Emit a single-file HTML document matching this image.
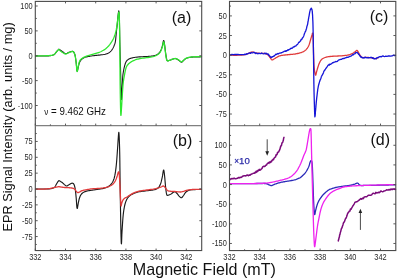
<!DOCTYPE html>
<html><head><meta charset="utf-8"><style>
html,body{margin:0;padding:0;background:#fff;width:398px;height:280px;overflow:hidden}
svg{display:block;filter:blur(0.35px)}
</style></head><body>
<svg width="398" height="280" viewBox="0 0 398 280">
<rect width="398" height="280" fill="#fff"/>
<g fill="none" stroke-linejoin="round" stroke-linecap="round" stroke-width="1.3">
<path d="M35.50,56.00 L36.59,56.00 L38.13,56.01 L39.94,56.02 L41.81,56.02 L43.57,56.02 L45.00,56.00 L46.12,55.97 L47.07,55.93 L47.91,55.89 L48.65,55.83 L49.33,55.77 L50.00,55.70 L50.63,55.62 L51.20,55.54 L51.71,55.44 L52.18,55.34 L52.60,55.23 L53.00,55.10 L53.34,54.97 L53.63,54.84 L53.87,54.71 L54.10,54.54 L54.33,54.35 L54.60,54.10 L54.90,53.79 L55.23,53.41 L55.56,53.00 L55.89,52.58 L56.20,52.17 L56.50,51.80 L56.78,51.46 L57.05,51.13 L57.31,50.81 L57.56,50.51 L57.79,50.24 L58.00,50.00 L58.18,49.79 L58.32,49.59 L58.44,49.42 L58.57,49.30 L58.72,49.22 L58.90,49.20 L59.12,49.25 L59.35,49.37 L59.60,49.54 L59.87,49.74 L60.17,49.97 L60.50,50.20 L60.86,50.46 L61.26,50.75 L61.67,51.06 L62.11,51.39 L62.56,51.70 L63.00,52.00 L63.45,52.31 L63.91,52.65 L64.39,52.98 L64.86,53.27 L65.34,53.49 L65.80,53.60 L66.26,53.57 L66.71,53.43 L67.17,53.21 L67.62,52.95 L68.06,52.70 L68.50,52.50 L68.94,52.33 L69.38,52.16 L69.81,51.99 L70.23,51.84 L70.63,51.71 L71.00,51.60 L71.33,51.51 L71.64,51.43 L71.93,51.38 L72.19,51.34 L72.45,51.35 L72.70,51.40 L72.94,51.48 L73.17,51.58 L73.38,51.72 L73.59,51.91 L73.79,52.16 L74.00,52.50 L74.21,52.90 L74.41,53.36 L74.62,53.88 L74.82,54.49 L75.01,55.19 L75.20,56.00 L75.38,56.95 L75.55,58.03 L75.72,59.21 L75.88,60.45 L76.04,61.72 L76.20,63.00 L76.35,64.44 L76.50,66.10 L76.64,67.80 L76.78,69.34 L76.93,70.54 L77.10,71.20 L77.28,71.22 L77.48,70.73 L77.68,69.89 L77.89,68.88 L78.10,67.86 L78.30,67.00 L78.49,66.25 L78.67,65.47 L78.85,64.67 L79.04,63.90 L79.25,63.17 L79.50,62.50 L79.77,61.90 L80.05,61.36 L80.36,60.86 L80.69,60.39 L81.07,59.94 L81.50,59.50 L81.98,59.07 L82.50,58.67 L83.06,58.28 L83.67,57.92 L84.31,57.59 L85.00,57.30 L85.75,57.05 L86.56,56.84 L87.41,56.66 L88.28,56.50 L89.15,56.35 L90.00,56.20 L90.83,56.06 L91.67,55.93 L92.50,55.81 L93.33,55.70 L94.17,55.60 L95.00,55.50 L95.83,55.41 L96.67,55.33 L97.50,55.25 L98.33,55.17 L99.17,55.09 L100.00,55.00 L100.86,54.90 L101.74,54.80 L102.62,54.69 L103.48,54.57 L104.28,54.44 L105.00,54.30 L105.62,54.15 L106.17,53.99 L106.66,53.81 L107.11,53.63 L107.55,53.42 L108.00,53.20 L108.45,52.96 L108.89,52.71 L109.31,52.44 L109.72,52.15 L110.12,51.84 L110.50,51.50 L110.87,51.14 L111.22,50.74 L111.56,50.33 L111.89,49.90 L112.20,49.45 L112.50,49.00 L112.78,48.54 L113.04,48.07 L113.29,47.59 L113.53,47.09 L113.77,46.56 L114.00,46.00 L114.24,45.41 L114.47,44.81 L114.70,44.19 L114.92,43.52 L115.12,42.79 L115.30,42.00 L115.45,41.12 L115.58,40.15 L115.69,39.12 L115.80,38.07 L115.90,37.02 L116.00,36.00 L116.11,34.99 L116.21,33.96 L116.31,32.94 L116.40,31.93 L116.50,30.94 L116.60,30.00 L116.70,29.13 L116.80,28.33 L116.90,27.56 L117.00,26.78 L117.10,25.94 L117.20,25.00 L117.30,23.93 L117.40,22.75 L117.50,21.51 L117.60,20.27 L117.70,19.09 L117.80,18.00 L117.90,16.99 L118.00,16.00 L118.11,15.06 L118.21,14.20 L118.31,13.44 L118.40,12.80 L118.49,12.20 L118.57,11.61 L118.66,11.13 L118.74,10.83 L118.82,10.82 L118.90,11.20 L118.98,11.94 L119.07,12.95 L119.16,14.25 L119.24,15.85 L119.32,17.76 L119.40,20.00 L119.47,22.74 L119.54,26.02 L119.61,29.61 L119.67,33.29 L119.73,36.83 L119.80,40.00 L119.87,42.73 L119.93,45.19 L119.99,47.50 L120.06,49.81 L120.13,52.27 L120.20,55.00 L120.28,58.00 L120.35,61.15 L120.43,64.44 L120.51,67.85 L120.60,71.38 L120.70,75.00 L120.81,79.13 L120.93,83.85 L121.05,88.69 L121.17,93.15 L121.29,96.75 L121.40,99.00 L121.49,99.64 L121.58,99.00 L121.66,97.50 L121.74,95.56 L121.82,93.58 L121.90,92.00 L121.98,90.72 L122.07,89.41 L122.16,88.06 L122.24,86.70 L122.32,85.34 L122.40,84.00 L122.47,82.64 L122.52,81.26 L122.58,79.88 L122.63,78.52 L122.71,77.22 L122.80,76.00 L122.92,74.86 L123.06,73.78 L123.22,72.75 L123.38,71.78 L123.54,70.86 L123.70,70.00 L123.85,69.21 L124.00,68.49 L124.14,67.83 L124.29,67.20 L124.44,66.60 L124.60,66.00 L124.76,65.41 L124.91,64.84 L125.07,64.29 L125.23,63.77 L125.41,63.27 L125.60,62.80 L125.80,62.36 L126.00,61.94 L126.21,61.56 L126.44,61.19 L126.70,60.84 L127.00,60.50 L127.34,60.17 L127.71,59.87 L128.12,59.57 L128.55,59.30 L129.01,59.04 L129.50,58.80 L130.01,58.58 L130.54,58.37 L131.09,58.19 L131.69,58.01 L132.32,57.85 L133.00,57.70 L133.72,57.56 L134.48,57.43 L135.28,57.31 L136.13,57.20 L137.03,57.09 L138.00,57.00 L139.05,56.92 L140.19,56.85 L141.38,56.79 L142.59,56.74 L143.81,56.67 L145.00,56.60 L146.20,56.52 L147.44,56.43 L148.69,56.34 L149.89,56.24 L151.01,56.13 L152.00,56.00 L152.85,55.87 L153.59,55.73 L154.25,55.59 L154.85,55.42 L155.43,55.23 L156.00,55.00 L156.57,54.74 L157.11,54.44 L157.62,54.12 L158.11,53.78 L158.57,53.40 L159.00,53.00 L159.40,52.58 L159.76,52.15 L160.09,51.69 L160.40,51.19 L160.70,50.63 L161.00,50.00 L161.30,49.28 L161.59,48.46 L161.86,47.59 L162.13,46.70 L162.37,45.83 L162.60,45.00 L162.80,44.13 L162.98,43.17 L163.14,42.22 L163.30,41.39 L163.45,40.78 L163.60,40.50 L163.75,40.57 L163.90,40.91 L164.05,41.47 L164.20,42.20 L164.35,43.06 L164.50,44.00 L164.66,45.08 L164.82,46.37 L164.99,47.78 L165.16,49.24 L165.33,50.67 L165.50,52.00 L165.68,53.28 L165.86,54.60 L166.05,55.89 L166.24,57.09 L166.42,58.15 L166.60,59.00 L166.76,59.63 L166.89,60.07 L167.02,60.38 L167.17,60.57 L167.35,60.70 L167.60,60.80 L167.91,60.85 L168.27,60.80 L168.67,60.69 L169.10,60.53 L169.55,60.36 L170.00,60.20 L170.47,60.03 L170.98,59.82 L171.50,59.59 L172.02,59.37 L172.53,59.17 L173.00,59.00 L173.43,58.86 L173.84,58.71 L174.23,58.59 L174.61,58.51 L175.00,58.47 L175.40,58.50 L175.83,58.61 L176.27,58.80 L176.73,59.03 L177.17,59.29 L177.60,59.56 L178.00,59.80 L178.37,60.03 L178.73,60.27 L179.06,60.51 L179.39,60.75 L179.70,60.98 L180.00,61.20 L180.29,61.43 L180.55,61.70 L180.81,61.95 L181.06,62.16 L181.32,62.29 L181.60,62.30 L181.89,62.17 L182.19,61.92 L182.49,61.59 L182.81,61.22 L183.15,60.85 L183.50,60.50 L183.86,60.17 L184.23,59.82 L184.62,59.46 L185.03,59.11 L185.49,58.79 L186.00,58.50 L186.57,58.24 L187.19,58.01 L187.84,57.79 L188.54,57.60 L189.26,57.44 L190.00,57.30 L190.76,57.20 L191.54,57.13 L192.34,57.09 L193.19,57.06 L194.07,57.03 L195.00,57.00 L196.07,56.96 L197.30,56.92 L198.56,56.88 L199.76,56.85 L200.78,56.82 L201.50,56.80" stroke="#1a1a1a" stroke-width="1.1"/>
<path d="M35.50,56.00 L36.59,55.98 L38.13,55.95 L39.94,55.92 L41.81,55.88 L43.57,55.84 L45.00,55.80 L46.12,55.76 L47.07,55.71 L47.91,55.67 L48.65,55.62 L49.33,55.56 L50.00,55.50 L50.63,55.43 L51.20,55.37 L51.71,55.29 L52.18,55.21 L52.60,55.11 L53.00,55.00 L53.34,54.88 L53.63,54.75 L53.87,54.61 L54.10,54.44 L54.33,54.24 L54.60,54.00 L54.90,53.70 L55.23,53.33 L55.56,52.94 L55.89,52.53 L56.20,52.15 L56.50,51.80 L56.78,51.49 L57.05,51.19 L57.31,50.91 L57.56,50.64 L57.79,50.41 L58.00,50.20 L58.18,50.01 L58.32,49.82 L58.44,49.66 L58.57,49.54 L58.72,49.48 L58.90,49.50 L59.12,49.62 L59.35,49.83 L59.60,50.09 L59.87,50.40 L60.17,50.71 L60.50,51.00 L60.86,51.29 L61.26,51.60 L61.67,51.92 L62.11,52.23 L62.56,52.53 L63.00,52.80 L63.45,53.06 L63.91,53.33 L64.39,53.59 L64.86,53.80 L65.34,53.95 L65.80,54.00 L66.26,53.94 L66.71,53.77 L67.17,53.54 L67.62,53.27 L68.06,53.02 L68.50,52.80 L68.94,52.61 L69.38,52.43 L69.81,52.24 L70.23,52.07 L70.63,51.92 L71.00,51.80 L71.33,51.69 L71.64,51.59 L71.93,51.51 L72.19,51.46 L72.45,51.46 L72.70,51.50 L72.94,51.59 L73.17,51.71 L73.38,51.88 L73.59,52.09 L73.79,52.36 L74.00,52.70 L74.21,53.09 L74.41,53.51 L74.62,53.99 L74.82,54.55 L75.01,55.21 L75.20,56.00 L75.38,56.94 L75.55,58.00 L75.72,59.17 L75.88,60.42 L76.04,61.70 L76.20,63.00 L76.35,64.49 L76.50,66.24 L76.64,68.03 L76.78,69.65 L76.93,70.88 L77.10,71.50 L77.28,71.38 L77.48,70.67 L77.68,69.56 L77.89,68.28 L78.10,67.02 L78.30,66.00 L78.49,65.17 L78.67,64.36 L78.85,63.57 L79.04,62.83 L79.25,62.13 L79.50,61.50 L79.77,60.94 L80.05,60.44 L80.36,59.99 L80.69,59.58 L81.07,59.19 L81.50,58.80 L81.98,58.42 L82.50,58.07 L83.06,57.74 L83.67,57.43 L84.31,57.11 L85.00,56.80 L85.75,56.48 L86.56,56.17 L87.41,55.86 L88.28,55.56 L89.15,55.27 L90.00,55.00 L90.83,54.75 L91.67,54.51 L92.50,54.29 L93.33,54.07 L94.17,53.84 L95.00,53.60 L95.86,53.34 L96.74,53.08 L97.62,52.81 L98.48,52.53 L99.28,52.26 L100.00,52.00 L100.62,51.75 L101.15,51.51 L101.62,51.27 L102.07,51.03 L102.52,50.78 L103.00,50.50 L103.50,50.21 L104.00,49.91 L104.50,49.59 L105.00,49.26 L105.50,48.90 L106.00,48.50 L106.51,48.06 L107.02,47.59 L107.53,47.09 L108.04,46.57 L108.53,46.04 L109.00,45.50 L109.45,44.95 L109.89,44.37 L110.31,43.78 L110.72,43.19 L111.12,42.59 L111.50,42.00 L111.87,41.43 L112.21,40.87 L112.55,40.31 L112.87,39.74 L113.19,39.14 L113.50,38.50 L113.81,37.81 L114.11,37.09 L114.40,36.34 L114.68,35.57 L114.95,34.79 L115.20,34.00 L115.43,33.22 L115.64,32.44 L115.84,31.66 L116.03,30.83 L116.22,29.95 L116.40,29.00 L116.58,27.95 L116.75,26.81 L116.92,25.62 L117.08,24.41 L117.24,23.19 L117.40,22.00 L117.56,20.78 L117.72,19.51 L117.88,18.23 L118.03,17.01 L118.17,15.92 L118.30,15.00 L118.42,14.18 L118.53,13.40 L118.62,12.73 L118.72,12.27 L118.81,12.10 L118.90,12.30 L118.99,12.78 L119.08,13.46 L119.16,14.42 L119.24,15.77 L119.32,17.60 L119.40,20.00 L119.47,23.05 L119.54,26.68 L119.61,30.79 L119.68,35.29 L119.74,40.05 L119.80,45.00 L119.85,50.37 L119.90,56.30 L119.95,62.50 L120.00,68.70 L120.05,74.63 L120.10,80.00 L120.16,84.92 L120.23,89.62 L120.29,94.04 L120.36,98.13 L120.43,101.80 L120.50,105.00 L120.56,107.77 L120.63,110.17 L120.69,112.17 L120.75,113.71 L120.82,114.77 L120.90,115.30 L120.99,115.17 L121.08,114.38 L121.18,113.11 L121.28,111.51 L121.39,109.75 L121.50,108.00 L121.62,106.15 L121.75,104.05 L121.88,101.79 L122.02,99.47 L122.16,97.17 L122.30,95.00 L122.44,92.90 L122.58,90.78 L122.72,88.69 L122.87,86.67 L123.03,84.76 L123.20,83.00 L123.39,81.42 L123.60,80.00 L123.81,78.69 L124.04,77.44 L124.27,76.23 L124.50,75.00 L124.73,73.73 L124.97,72.46 L125.21,71.22 L125.46,70.04 L125.72,68.95 L126.00,68.00 L126.29,67.20 L126.59,66.54 L126.91,65.97 L127.24,65.46 L127.60,64.98 L128.00,64.50 L128.43,64.02 L128.89,63.57 L129.38,63.16 L129.89,62.76 L130.43,62.38 L131.00,62.00 L131.60,61.63 L132.22,61.27 L132.88,60.93 L133.56,60.60 L134.26,60.29 L135.00,60.00 L135.74,59.73 L136.48,59.48 L137.25,59.24 L138.07,59.02 L138.98,58.81 L140.00,58.60 L141.17,58.40 L142.48,58.23 L143.88,58.06 L145.30,57.89 L146.69,57.70 L148.00,57.50 L149.26,57.28 L150.52,57.07 L151.75,56.84 L152.93,56.59 L154.02,56.31 L155.00,56.00 L155.86,55.65 L156.63,55.26 L157.31,54.84 L157.93,54.41 L158.48,53.96 L159.00,53.50 L159.45,53.05 L159.83,52.59 L160.15,52.12 L160.44,51.63 L160.71,51.09 L161.00,50.50 L161.30,49.83 L161.59,49.10 L161.86,48.32 L162.13,47.53 L162.37,46.75 L162.60,46.00 L162.80,45.20 L162.98,44.30 L163.14,43.42 L163.30,42.64 L163.45,42.07 L163.60,41.80 L163.75,41.85 L163.90,42.14 L164.05,42.64 L164.20,43.30 L164.35,44.10 L164.50,45.00 L164.66,46.07 L164.82,47.37 L164.99,48.79 L165.16,50.27 L165.33,51.70 L165.50,53.00 L165.68,54.23 L165.86,55.47 L166.05,56.67 L166.24,57.77 L166.42,58.73 L166.60,59.50 L166.76,60.04 L166.89,60.39 L167.02,60.59 L167.17,60.70 L167.35,60.75 L167.60,60.80 L167.91,60.82 L168.27,60.76 L168.67,60.66 L169.10,60.51 L169.55,60.36 L170.00,60.20 L170.47,60.03 L170.98,59.82 L171.50,59.59 L172.02,59.37 L172.53,59.17 L173.00,59.00 L173.43,58.86 L173.84,58.73 L174.23,58.61 L174.61,58.53 L175.00,58.49 L175.40,58.50 L175.83,58.57 L176.27,58.70 L176.73,58.88 L177.17,59.07 L177.60,59.29 L178.00,59.50 L178.37,59.73 L178.73,59.99 L179.06,60.26 L179.39,60.53 L179.70,60.78 L180.00,61.00 L180.29,61.20 L180.55,61.40 L180.81,61.59 L181.06,61.73 L181.32,61.81 L181.60,61.80 L181.89,61.69 L182.19,61.49 L182.49,61.22 L182.81,60.92 L183.15,60.61 L183.50,60.30 L183.86,59.99 L184.23,59.64 L184.62,59.27 L185.03,58.92 L185.49,58.59 L186.00,58.30 L186.57,58.06 L187.19,57.84 L187.84,57.65 L188.54,57.48 L189.26,57.33 L190.00,57.20 L190.76,57.09 L191.54,57.01 L192.34,56.94 L193.19,56.89 L194.07,56.85 L195.00,56.80 L196.07,56.75 L197.30,56.71 L198.56,56.67 L199.76,56.64 L200.78,56.62 L201.50,56.60" stroke="#2ee82e"/>
<path d="M35.50,189.00 L36.59,189.00 L38.13,189.01 L39.94,189.01 L41.81,189.01 L43.57,189.01 L45.00,189.00 L46.12,188.98 L47.07,188.97 L47.91,188.94 L48.65,188.91 L49.33,188.86 L50.00,188.80 L50.63,188.72 L51.19,188.62 L51.70,188.51 L52.16,188.39 L52.59,188.25 L53.00,188.10 L53.37,187.95 L53.69,187.80 L53.98,187.64 L54.25,187.44 L54.52,187.20 L54.80,186.90 L55.09,186.51 L55.37,186.05 L55.66,185.54 L55.94,185.01 L56.22,184.49 L56.50,184.00 L56.79,183.51 L57.10,183.01 L57.40,182.51 L57.69,182.04 L57.96,181.63 L58.20,181.30 L58.39,181.06 L58.54,180.89 L58.67,180.78 L58.79,180.72 L58.93,180.69 L59.10,180.70 L59.30,180.75 L59.51,180.84 L59.73,180.98 L59.97,181.14 L60.23,181.32 L60.50,181.50 L60.80,181.68 L61.12,181.88 L61.46,182.09 L61.81,182.31 L62.16,182.55 L62.50,182.80 L62.83,183.08 L63.17,183.38 L63.50,183.69 L63.83,184.01 L64.17,184.32 L64.50,184.60 L64.83,184.88 L65.17,185.19 L65.50,185.47 L65.83,185.73 L66.17,185.91 L66.50,186.00 L66.83,185.98 L67.15,185.86 L67.47,185.68 L67.80,185.45 L68.14,185.22 L68.50,185.00 L68.90,184.78 L69.33,184.53 L69.78,184.26 L70.22,184.01 L70.64,183.78 L71.00,183.60 L71.31,183.46 L71.57,183.33 L71.81,183.23 L72.04,183.17 L72.26,183.16 L72.50,183.20 L72.75,183.28 L73.01,183.39 L73.27,183.54 L73.52,183.77 L73.77,184.08 L74.00,184.50 L74.22,185.01 L74.43,185.60 L74.63,186.27 L74.83,187.05 L75.02,187.95 L75.20,189.00 L75.38,190.22 L75.55,191.61 L75.72,193.12 L75.88,194.72 L76.04,196.36 L76.20,198.00 L76.35,199.85 L76.50,201.98 L76.64,204.16 L76.78,206.13 L76.93,207.66 L77.10,208.50 L77.28,208.50 L77.48,207.83 L77.68,206.72 L77.89,205.39 L78.10,204.07 L78.30,203.00 L78.49,202.13 L78.67,201.26 L78.85,200.41 L79.04,199.57 L79.25,198.77 L79.50,198.00 L79.77,197.26 L80.05,196.53 L80.36,195.84 L80.69,195.18 L81.07,194.56 L81.50,194.00 L81.98,193.49 L82.50,193.03 L83.06,192.62 L83.67,192.24 L84.31,191.91 L85.00,191.60 L85.75,191.34 L86.56,191.12 L87.41,190.94 L88.28,190.79 L89.15,190.65 L90.00,190.50 L90.83,190.36 L91.67,190.24 L92.50,190.13 L93.33,190.03 L94.17,189.92 L95.00,189.80 L95.83,189.67 L96.67,189.55 L97.50,189.42 L98.33,189.29 L99.17,189.15 L100.00,189.00 L100.84,188.86 L101.70,188.72 L102.56,188.57 L103.41,188.41 L104.22,188.23 L105.00,188.00 L105.74,187.74 L106.44,187.44 L107.12,187.12 L107.78,186.78 L108.40,186.40 L109.00,186.00 L109.56,185.59 L110.09,185.19 L110.59,184.75 L111.07,184.26 L111.54,183.69 L112.00,183.00 L112.45,182.24 L112.90,181.44 L113.33,180.56 L113.74,179.56 L114.13,178.38 L114.50,177.00 L114.85,175.41 L115.17,173.63 L115.48,171.69 L115.76,169.59 L116.04,167.36 L116.30,165.00 L116.55,162.40 L116.79,159.52 L117.01,156.50 L117.22,153.48 L117.42,150.60 L117.60,148.00 L117.77,145.61 L117.91,143.31 L118.05,141.15 L118.17,139.18 L118.29,137.44 L118.40,136.00 L118.50,134.79 L118.59,133.76 L118.67,132.96 L118.74,132.47 L118.82,132.33 L118.90,132.60 L118.98,133.35 L119.07,134.54 L119.16,136.09 L119.24,137.90 L119.32,139.90 L119.40,142.00 L119.47,144.10 L119.54,146.25 L119.61,148.59 L119.67,151.24 L119.73,154.33 L119.80,158.00 L119.86,162.31 L119.92,167.19 L119.98,172.50 L120.04,178.15 L120.12,184.02 L120.20,190.00 L120.30,196.50 L120.42,203.70 L120.54,211.12 L120.67,218.30 L120.79,224.75 L120.90,230.00 L120.99,234.14 L121.08,237.56 L121.16,240.25 L121.23,242.22 L121.31,243.47 L121.40,244.00 L121.49,243.56 L121.57,242.11 L121.66,239.94 L121.75,237.33 L121.86,234.59 L122.00,232.00 L122.16,229.38 L122.34,226.44 L122.54,223.38 L122.75,220.33 L122.97,217.49 L123.20,215.00 L123.44,212.88 L123.68,211.00 L123.94,209.31 L124.21,207.78 L124.49,206.35 L124.80,205.00 L125.12,203.74 L125.46,202.61 L125.81,201.59 L126.19,200.67 L126.58,199.81 L127.00,199.00 L127.43,198.26 L127.87,197.61 L128.32,197.03 L128.82,196.50 L129.38,196.00 L130.00,195.50 L130.72,195.01 L131.52,194.55 L132.38,194.12 L133.26,193.71 L134.14,193.34 L135.00,193.00 L135.80,192.70 L136.56,192.44 L137.31,192.21 L138.11,192.00 L138.99,191.80 L140.00,191.60 L141.18,191.41 L142.52,191.23 L143.94,191.06 L145.37,190.90 L146.75,190.75 L148.00,190.60 L149.14,190.47 L150.22,190.36 L151.25,190.25 L152.22,190.13 L153.14,189.99 L154.00,189.80 L154.80,189.58 L155.54,189.36 L156.22,189.10 L156.85,188.80 L157.44,188.44 L158.00,188.00 L158.51,187.50 L158.97,186.94 L159.39,186.32 L159.77,185.64 L160.14,184.87 L160.50,184.00 L160.85,183.01 L161.17,181.89 L161.47,180.69 L161.76,179.44 L162.04,178.20 L162.30,177.00 L162.55,175.68 L162.78,174.19 L163.00,172.69 L163.21,171.37 L163.41,170.41 L163.60,170.00 L163.78,170.19 L163.96,170.85 L164.12,171.88 L164.28,173.15 L164.44,174.56 L164.60,176.00 L164.77,177.58 L164.93,179.43 L165.09,181.41 L165.26,183.41 L165.43,185.31 L165.60,187.00 L165.78,188.53 L165.95,190.01 L166.13,191.39 L166.31,192.63 L166.50,193.68 L166.70,194.50 L166.89,195.03 L167.06,195.31 L167.23,195.39 L167.43,195.36 L167.68,195.27 L168.00,195.20 L168.41,195.11 L168.91,194.95 L169.46,194.74 L170.01,194.49 L170.54,194.24 L171.00,194.00 L171.39,193.76 L171.74,193.49 L172.06,193.22 L172.37,192.95 L172.68,192.71 L173.00,192.50 L173.33,192.31 L173.67,192.12 L174.00,191.95 L174.33,191.83 L174.67,191.77 L175.00,191.80 L175.33,191.93 L175.65,192.14 L175.97,192.42 L176.30,192.75 L176.64,193.11 L177.00,193.50 L177.39,193.95 L177.81,194.47 L178.25,195.03 L178.69,195.59 L179.11,196.09 L179.50,196.50 L179.86,196.84 L180.20,197.16 L180.53,197.43 L180.85,197.62 L181.17,197.72 L181.50,197.70 L181.83,197.55 L182.15,197.27 L182.47,196.89 L182.80,196.46 L183.14,195.98 L183.50,195.50 L183.87,194.97 L184.24,194.37 L184.62,193.74 L185.04,193.10 L185.49,192.51 L186.00,192.00 L186.57,191.56 L187.19,191.16 L187.84,190.81 L188.54,190.49 L189.26,190.22 L190.00,190.00 L190.76,189.84 L191.54,189.74 L192.34,189.69 L193.19,189.66 L194.07,189.64 L195.00,189.60 L196.07,189.55 L197.30,189.51 L198.56,189.47 L199.76,189.44 L200.78,189.42 L201.50,189.40" stroke="#1a1a1a" stroke-width="1.15"/>
<path d="M35.50,189.20 L36.59,189.18 L38.13,189.16 L39.94,189.13 L41.81,189.10 L43.57,189.05 L45.00,189.00 L46.11,188.94 L47.04,188.87 L47.84,188.79 L48.57,188.71 L49.28,188.61 L50.00,188.50 L50.74,188.37 L51.44,188.22 L52.12,188.06 L52.78,187.89 L53.40,187.74 L54.00,187.60 L54.57,187.48 L55.11,187.37 L55.62,187.26 L56.11,187.17 L56.57,187.08 L57.00,187.00 L57.38,186.92 L57.70,186.85 L58.00,186.78 L58.30,186.73 L58.62,186.70 L59.00,186.70 L59.43,186.74 L59.89,186.81 L60.38,186.91 L60.89,187.01 L61.43,187.11 L62.00,187.20 L62.61,187.27 L63.26,187.35 L63.94,187.42 L64.63,187.49 L65.32,187.55 L66.00,187.60 L66.68,187.64 L67.37,187.67 L68.06,187.69 L68.74,187.72 L69.39,187.75 L70.00,187.80 L70.57,187.86 L71.11,187.92 L71.62,187.99 L72.11,188.07 L72.57,188.17 L73.00,188.30 L73.40,188.45 L73.76,188.62 L74.09,188.81 L74.41,189.01 L74.71,189.25 L75.00,189.50 L75.28,189.80 L75.54,190.14 L75.79,190.51 L76.03,190.87 L76.27,191.21 L76.50,191.50 L76.72,191.76 L76.93,192.00 L77.14,192.21 L77.34,192.39 L77.56,192.53 L77.80,192.60 L78.05,192.61 L78.31,192.55 L78.57,192.45 L78.86,192.31 L79.17,192.16 L79.50,192.00 L79.85,191.82 L80.22,191.60 L80.61,191.37 L81.03,191.13 L81.49,190.90 L82.00,190.70 L82.56,190.53 L83.15,190.37 L83.78,190.23 L84.46,190.09 L85.20,189.95 L86.00,189.80 L86.86,189.63 L87.78,189.46 L88.75,189.28 L89.78,189.10 L90.86,188.94 L92.00,188.80 L93.24,188.69 L94.59,188.61 L96.00,188.54 L97.41,188.48 L98.76,188.40 L100.00,188.30 L101.14,188.18 L102.22,188.05 L103.25,187.91 L104.22,187.75 L105.14,187.58 L106.00,187.40 L106.79,187.20 L107.52,186.99 L108.19,186.77 L108.81,186.53 L109.41,186.27 L110.00,186.00 L110.56,185.72 L111.09,185.43 L111.59,185.13 L112.07,184.80 L112.54,184.43 L113.00,184.00 L113.45,183.52 L113.90,182.98 L114.33,182.41 L114.74,181.80 L115.14,181.16 L115.50,180.50 L115.84,179.80 L116.14,179.06 L116.43,178.28 L116.70,177.50 L116.95,176.73 L117.20,176.00 L117.43,175.23 L117.65,174.41 L117.86,173.59 L118.05,172.87 L118.23,172.31 L118.40,172.00 L118.56,171.88 L118.70,171.89 L118.83,172.06 L118.96,172.44 L119.08,173.08 L119.20,174.00 L119.32,175.29 L119.44,176.93 L119.56,178.81 L119.68,180.85 L119.79,182.95 L119.90,185.00 L120.01,187.11 L120.11,189.38 L120.21,191.70 L120.31,193.98 L120.41,196.11 L120.50,198.00 L120.59,199.72 L120.66,201.38 L120.74,202.89 L120.81,204.18 L120.90,205.17 L121.00,205.80 L121.11,205.95 L121.23,205.66 L121.36,205.08 L121.49,204.34 L121.64,203.60 L121.80,203.00 L121.97,202.50 L122.14,201.98 L122.32,201.45 L122.53,200.93 L122.75,200.44 L123.00,200.00 L123.29,199.60 L123.61,199.22 L123.95,198.88 L124.30,198.56 L124.66,198.26 L125.00,198.00 L125.32,197.79 L125.63,197.63 L125.94,197.50 L126.26,197.37 L126.61,197.21 L127.00,197.00 L127.42,196.73 L127.85,196.43 L128.31,196.10 L128.81,195.75 L129.37,195.38 L130.00,195.00 L130.72,194.59 L131.52,194.13 L132.38,193.66 L133.26,193.20 L134.14,192.77 L135.00,192.40 L135.81,192.09 L136.59,191.83 L137.38,191.60 L138.19,191.39 L139.05,191.20 L140.00,191.00 L141.05,190.81 L142.19,190.64 L143.38,190.47 L144.59,190.32 L145.81,190.16 L147.00,190.00 L148.20,189.83 L149.44,189.67 L150.69,189.50 L151.89,189.33 L153.01,189.17 L154.00,189.00 L154.85,188.83 L155.59,188.67 L156.25,188.50 L156.85,188.33 L157.43,188.17 L158.00,188.00 L158.56,187.83 L159.09,187.67 L159.59,187.50 L160.07,187.33 L160.54,187.17 L161.00,187.00 L161.45,186.80 L161.89,186.56 L162.31,186.31 L162.72,186.11 L163.12,185.99 L163.50,186.00 L163.86,186.15 L164.20,186.43 L164.53,186.78 L164.85,187.19 L165.17,187.60 L165.50,188.00 L165.83,188.41 L166.15,188.86 L166.47,189.33 L166.80,189.78 L167.14,190.18 L167.50,190.50 L167.86,190.73 L168.20,190.88 L168.56,190.99 L168.96,191.06 L169.43,191.13 L170.00,191.20 L170.69,191.27 L171.48,191.32 L172.34,191.36 L173.24,191.40 L174.14,191.44 L175.00,191.50 L175.86,191.58 L176.74,191.69 L177.62,191.80 L178.48,191.90 L179.28,191.97 L180.00,192.00 L180.62,191.98 L181.15,191.93 L181.62,191.84 L182.07,191.74 L182.52,191.62 L183.00,191.50 L183.49,191.36 L183.96,191.20 L184.44,191.02 L184.93,190.84 L185.44,190.66 L186.00,190.50 L186.60,190.35 L187.22,190.20 L187.88,190.06 L188.56,189.92 L189.26,189.80 L190.00,189.70 L190.76,189.62 L191.54,189.56 L192.34,189.51 L193.19,189.47 L194.07,189.43 L195.00,189.40 L196.07,189.37 L197.30,189.35 L198.56,189.33 L199.76,189.32 L200.78,189.31 L201.50,189.30" stroke="#e03a3a"/>
<path d="M229.60,55.20 L230.53,55.21 L231.83,55.22 L233.36,55.24 L234.99,55.24 L236.58,55.23 L238.00,55.20 L239.28,55.14 L240.55,55.07 L241.78,54.99 L242.94,54.88 L244.02,54.75 L245.00,54.60 L245.85,54.41 L246.58,54.19 L247.22,53.94 L247.82,53.68 L248.40,53.43 L249.00,53.20 L249.60,52.96 L250.17,52.70 L250.73,52.44 L251.27,52.22 L251.83,52.06 L252.40,52.00 L252.98,52.06 L253.57,52.23 L254.16,52.46 L254.76,52.71 L255.37,52.94 L256.00,53.10 L256.63,53.19 L257.27,53.23 L257.91,53.26 L258.58,53.27 L259.27,53.28 L260.00,53.30 L260.80,53.32 L261.67,53.32 L262.56,53.32 L263.44,53.34 L264.27,53.39 L265.00,53.50 L265.63,53.66 L266.19,53.87 L266.69,54.11 L267.15,54.38 L267.58,54.68 L268.00,55.00 L268.39,55.36 L268.74,55.76 L269.06,56.19 L269.37,56.64 L269.68,57.08 L270.00,57.50 L270.33,57.94 L270.67,58.43 L271.00,58.91 L271.33,59.35 L271.67,59.69 L272.00,59.90 L272.32,59.95 L272.63,59.88 L272.94,59.71 L273.26,59.49 L273.61,59.24 L274.00,59.00 L274.44,58.75 L274.93,58.45 L275.44,58.13 L275.96,57.80 L276.49,57.49 L277.00,57.20 L277.48,56.94 L277.93,56.68 L278.38,56.44 L278.85,56.21 L279.38,55.99 L280.00,55.80 L280.72,55.63 L281.52,55.48 L282.38,55.34 L283.26,55.22 L284.14,55.11 L285.00,55.00 L285.83,54.90 L286.67,54.81 L287.50,54.73 L288.33,54.66 L289.17,54.58 L290.00,54.50 L290.83,54.42 L291.67,54.36 L292.50,54.29 L293.33,54.21 L294.17,54.12 L295.00,54.00 L295.86,53.85 L296.74,53.68 L297.62,53.49 L298.48,53.29 L299.28,53.09 L300.00,52.90 L300.63,52.72 L301.19,52.54 L301.69,52.36 L302.15,52.17 L302.58,51.99 L303.00,51.80 L303.39,51.62 L303.74,51.44 L304.06,51.26 L304.37,51.07 L304.68,50.85 L305.00,50.60 L305.33,50.32 L305.67,50.02 L306.00,49.69 L306.33,49.34 L306.67,48.94 L307.00,48.50 L307.34,48.03 L307.67,47.53 L308.01,46.99 L308.35,46.40 L308.68,45.74 L309.00,45.00 L309.32,44.12 L309.64,43.11 L309.95,42.03 L310.25,40.94 L310.54,39.91 L310.80,39.00 L311.04,38.19 L311.26,37.43 L311.47,36.73 L311.66,36.09 L311.84,35.51 L312.00,35.00 L312.15,34.49 L312.28,33.95 L312.39,33.48 L312.50,33.16 L312.60,33.07 L312.70,33.30 L312.80,33.83 L312.89,34.60 L312.97,35.61 L313.05,36.84 L313.12,38.31 L313.20,40.00 L313.27,42.04 L313.33,44.46 L313.39,47.11 L313.46,49.84 L313.52,52.52 L313.60,55.00 L313.68,57.35 L313.76,59.70 L313.84,61.99 L313.94,64.18 L314.06,66.20 L314.20,68.00 L314.38,69.64 L314.59,71.18 L314.82,72.56 L315.06,73.71 L315.29,74.58 L315.50,75.10 L315.68,75.19 L315.84,74.87 L316.00,74.27 L316.16,73.51 L316.32,72.72 L316.50,72.00 L316.70,71.33 L316.91,70.59 L317.12,69.81 L317.35,69.01 L317.57,68.24 L317.80,67.50 L318.03,66.79 L318.26,66.09 L318.49,65.40 L318.72,64.73 L318.96,64.10 L319.20,63.50 L319.44,62.94 L319.68,62.41 L319.92,61.91 L320.17,61.44 L320.43,61.01 L320.70,60.60 L320.97,60.23 L321.23,59.91 L321.49,59.61 L321.79,59.34 L322.12,59.07 L322.50,58.80 L322.94,58.52 L323.42,58.25 L323.94,57.99 L324.50,57.74 L325.09,57.51 L325.70,57.30 L326.33,57.12 L326.99,56.97 L327.67,56.83 L328.40,56.71 L329.17,56.60 L330.00,56.50 L330.90,56.41 L331.87,56.33 L332.89,56.27 L333.94,56.21 L334.98,56.16 L336.00,56.10 L337.00,56.05 L338.00,56.01 L339.00,55.97 L340.00,55.93 L341.00,55.88 L342.00,55.80 L343.02,55.70 L344.07,55.59 L345.12,55.47 L346.15,55.33 L347.12,55.17 L348.00,55.00 L348.79,54.81 L349.52,54.59 L350.19,54.36 L350.81,54.12 L351.41,53.86 L352.00,53.60 L352.57,53.32 L353.11,53.01 L353.62,52.70 L354.10,52.39 L354.56,52.08 L355.00,51.80 L355.40,51.49 L355.77,51.14 L356.12,50.79 L356.45,50.52 L356.77,50.37 L357.10,50.40 L357.43,50.66 L357.74,51.10 L358.06,51.68 L358.37,52.31 L358.68,52.94 L359.00,53.50 L359.33,54.03 L359.68,54.58 L360.02,55.13 L360.37,55.65 L360.69,56.12 L361.00,56.50 L361.26,56.80 L361.46,57.02 L361.66,57.19 L361.87,57.32 L362.14,57.42 L362.50,57.50 L362.96,57.54 L363.50,57.54 L364.09,57.50 L364.72,57.45 L365.36,57.41 L366.00,57.40 L366.65,57.41 L367.33,57.43 L368.03,57.46 L368.72,57.50 L369.39,57.55 L370.00,57.60 L370.56,57.67 L371.09,57.74 L371.59,57.83 L372.07,57.92 L372.54,58.01 L373.00,58.10 L373.45,58.20 L373.87,58.31 L374.28,58.43 L374.69,58.53 L375.09,58.59 L375.50,58.60 L375.95,58.53 L376.43,58.40 L376.91,58.23 L377.35,58.06 L377.73,57.90 L378.00,57.80" stroke="#e03a3a"/>
<path d="M229.60,54.73 L230.53,55.00 L231.83,54.36 L233.36,54.65 L234.99,54.51 L236.58,54.46 L238.00,54.52 L239.28,54.62 L240.55,54.63 L241.78,54.70 L242.94,54.52 L244.02,54.67 L245.00,54.13 L245.85,54.61 L246.58,53.68 L247.22,54.08 L247.82,53.67 L248.40,53.62 L249.00,53.08 L249.60,52.95 L250.17,53.30 L250.73,53.26 L251.27,52.50 L251.83,52.72 L252.40,52.84 L252.98,52.90 L253.57,52.29 L254.16,52.42 L254.76,52.73 L255.37,53.53 L256.00,52.94 L256.63,53.29 L257.27,53.80 L257.91,53.43 L258.58,53.57 L259.27,53.23 L260.00,53.57 L260.80,53.70 L261.67,52.94 L262.56,53.58 L263.44,53.78 L264.27,53.58 L265.00,53.20 L265.63,53.74 L266.20,53.21 L266.72,53.64 L267.19,54.20 L267.61,53.81 L268.00,54.01 L268.33,54.11 L268.60,54.31 L268.83,55.22 L269.04,55.13 L269.26,55.50 L269.50,55.99 L269.77,55.88 L270.05,56.65 L270.33,56.55 L270.62,57.20 L270.91,57.48 L271.20,57.04 L271.48,57.32 L271.75,57.49 L272.02,57.09 L272.31,56.56 L272.63,56.77 L273.00,56.65 L273.42,56.24 L273.87,56.30 L274.36,55.62 L274.88,55.53 L275.43,54.49 L276.00,54.18 L276.60,54.50 L277.22,53.88 L277.88,53.44 L278.56,53.89 L279.26,53.12 L280.00,53.23 L280.80,52.91 L281.67,52.74 L282.56,52.19 L283.44,51.99 L284.27,51.33 L285.00,50.99 L285.60,51.33 L286.11,50.72 L286.56,51.03 L287.00,50.58 L287.47,50.35 L288.00,49.65 L288.61,50.12 L289.26,49.37 L289.94,49.15 L290.63,48.65 L291.32,48.13 L292.00,48.36 L292.67,47.70 L293.33,46.82 L294.00,47.00 L294.67,46.33 L295.33,46.05 L296.00,45.85 L296.68,44.75 L297.39,44.53 L298.09,43.50 L298.78,42.18 L299.42,42.26 L300.00,41.37 L300.51,41.06 L300.96,39.79 L301.38,39.25 L301.76,39.47 L302.13,38.74 L302.50,37.61 L302.86,37.62 L303.21,36.99 L303.54,36.49 L303.87,35.63 L304.18,34.40 L304.50,33.57 L304.82,32.81 L305.13,32.02 L305.43,31.40 L305.73,31.10 L306.02,29.94 L306.30,29.05 L306.57,28.38 L306.83,26.77 L307.09,25.93 L307.33,25.19 L307.57,24.49 L307.80,23.05 L308.02,21.44 L308.22,20.96 L308.42,19.23 L308.61,18.54 L308.80,16.99 L309.00,16.33 L309.20,15.18 L309.40,13.97 L309.61,12.60 L309.81,11.62 L310.01,10.85 L310.20,10.09 L310.39,9.57 L310.58,9.19 L310.77,9.25 L310.95,8.84 L311.13,8.19 L311.30,8.21 L311.47,9.12 L311.63,8.97 L311.79,8.98 L311.94,9.48 L312.08,10.50 L312.20,10.73 L312.31,11.92 L312.40,13.23 L312.48,14.21 L312.56,14.89 L312.63,16.49 L312.70,18.11 L312.77,19.86 L312.84,20.84 L312.91,22.44 L312.97,24.46 L313.00,26.01 L313.03,27.29 L313.07,28.66 L313.10,29.84 L313.12,31.56 L313.14,32.31 L313.17,33.25 L313.19,34.68 L313.21,36.13 L313.23,37.34 L313.25,38.02 L313.27,38.89 L313.28,40.21 L313.30,41.49 L313.32,42.22 L313.33,43.82 L313.35,44.31 L313.37,45.60 L313.38,47.23 L313.40,47.83 L313.42,49.37 L313.43,50.42 L313.45,51.93 L313.47,52.48 L313.48,53.46 L313.50,55.21 L313.52,56.45 L313.53,57.78 L313.55,59.01 L313.57,59.39 L313.58,60.62 L313.59,62.00 L313.60,63.33 L313.62,64.37 L313.63,65.05 L313.64,66.44 L313.66,67.25 L313.67,68.09 L313.68,69.24 L313.69,70.41 L313.71,71.41 L313.72,72.79 L313.73,73.84 L313.75,74.41 L313.76,75.97 L313.78,76.50 L313.79,77.70 L313.81,78.95 L313.83,80.53 L313.85,81.21 L313.86,83.16 L313.88,84.17 L313.90,84.56 L313.92,85.71 L313.94,86.85 L313.96,87.67 L313.98,89.29 L314.00,90.10 L314.03,91.87 L314.06,92.78 L314.09,94.19 L314.12,95.31 L314.14,96.50 L314.17,97.16 L314.20,98.29 L314.23,99.58 L314.27,100.59 L314.32,102.25 L314.36,103.72 L314.40,104.56 L314.44,106.41 L314.48,107.60 L314.52,109.22 L314.56,110.06 L314.60,111.76 L314.64,112.65 L314.72,114.26 L314.81,116.26 L314.90,116.90 L315.00,116.38 L315.11,115.96 L315.23,114.92 L315.34,113.57 L315.47,111.08 L315.60,110.43 L315.73,108.43 L315.86,107.40 L316.00,105.42 L316.15,103.90 L316.31,101.89 L316.50,100.12 L316.71,97.87 L316.82,97.10 L316.94,96.21 L317.06,95.24 L317.18,94.07 L317.31,92.97 L317.44,92.07 L317.71,89.60 L318.00,88.15 L318.30,86.42 L318.63,84.97 L318.97,83.73 L319.31,82.56 L319.66,81.39 L320.00,80.61 L320.33,79.46 L320.66,79.06 L320.98,77.99 L321.31,76.78 L321.65,76.22 L322.00,75.36 L322.37,74.95 L322.75,74.20 L323.14,73.41 L323.53,72.40 L323.92,71.29 L324.30,70.58 L324.67,70.48 L325.04,69.58 L325.41,69.27 L325.78,68.54 L326.14,68.19 L326.50,67.52 L326.85,67.30 L327.18,66.70 L327.51,66.22 L327.84,65.74 L328.20,65.15 L328.60,65.09 L329.03,64.50 L329.49,65.02 L329.96,64.01 L330.46,64.31 L330.97,64.10 L331.50,63.67 L332.03,63.31 L332.57,62.71 L333.12,62.75 L333.70,62.41 L334.32,62.04 L335.00,62.08 L335.75,61.50 L336.56,61.68 L337.41,61.29 L338.28,60.31 L339.15,59.80 L340.00,59.52 L340.84,59.47 L341.69,59.35 L342.54,58.57 L343.39,58.31 L344.21,58.58 L345.00,57.92 L345.75,57.89 L346.47,57.37 L347.17,57.09 L347.86,57.30 L348.57,57.05 L349.30,56.49 L350.08,56.55 L350.90,56.05 L351.73,55.68 L352.54,54.75 L353.31,54.84 L354.00,53.95 L354.61,53.81 L355.16,53.62 L355.67,52.52 L356.14,52.45 L356.58,52.71 L357.00,52.61 L357.39,52.46 L357.74,53.05 L358.06,53.53 L358.37,53.89 L358.68,54.39 L359.00,54.14 L359.34,55.06 L359.69,55.56 L360.03,55.95 L360.37,56.57 L360.70,56.27 L361.00,57.24 L361.26,57.43 L361.46,57.15 L361.66,57.24 L361.87,57.64 L362.14,57.42 L362.50,57.87 L362.96,57.57 L363.50,57.87 L364.09,58.02 L364.72,57.36 L365.36,57.19 L366.00,57.86 L366.65,57.54 L367.33,57.93 L368.03,57.63 L368.72,57.97 L369.39,57.59 L370.00,57.62 L370.56,57.34 L371.09,57.64 L371.59,57.45 L372.07,57.68 L372.54,58.32 L373.00,57.78 L373.45,58.19 L373.87,58.76 L374.28,58.74 L374.69,58.83 L375.09,58.44 L375.50,58.65 L375.90,58.67 L376.28,58.86 L376.66,57.93 L377.06,57.72 L377.50,57.49 L378.00,57.73 L378.56,57.28 L379.15,56.73 L379.78,56.96 L380.46,56.53 L381.20,56.90 L382.00,56.32 L382.87,55.96 L383.80,56.38 L384.78,56.53 L385.81,56.05 L386.89,56.31 L388.00,56.01 L389.25,55.94 L390.67,56.20 L392.12,55.94 L393.50,55.14 L394.67,55.65 L395.50,55.37" stroke="#1515d8"/>
<path d="M229.60,183.70 L230.74,183.70 L232.31,183.70 L234.17,183.71 L236.18,183.71 L238.17,183.71 L240.00,183.70 L241.69,183.69 L243.36,183.67 L245.03,183.66 L246.68,183.64 L248.34,183.62 L250.00,183.60 L251.71,183.58 L253.48,183.56 L255.25,183.54 L256.96,183.52 L258.56,183.51 L260.00,183.50 L261.27,183.49 L262.41,183.48 L263.44,183.47 L264.37,183.48 L265.22,183.52 L266.00,183.60 L266.68,183.74 L267.25,183.93 L267.74,184.16 L268.17,184.39 L268.58,184.61 L269.00,184.80 L269.42,184.97 L269.81,185.15 L270.17,185.31 L270.53,185.45 L270.87,185.55 L271.20,185.60 L271.51,185.59 L271.79,185.53 L272.05,185.42 L272.33,185.30 L272.64,185.15 L273.00,185.00 L273.42,184.83 L273.87,184.64 L274.36,184.44 L274.88,184.22 L275.43,184.01 L276.00,183.80 L276.60,183.60 L277.22,183.39 L277.88,183.19 L278.56,182.99 L279.26,182.79 L280.00,182.60 L280.78,182.42 L281.59,182.24 L282.44,182.07 L283.30,181.91 L284.16,181.75 L285.00,181.60 L285.83,181.46 L286.67,181.33 L287.50,181.20 L288.33,181.07 L289.17,180.94 L290.00,180.80 L290.86,180.65 L291.74,180.49 L292.62,180.33 L293.48,180.16 L294.28,179.98 L295.00,179.80 L295.63,179.61 L296.19,179.40 L296.69,179.19 L297.15,178.98 L297.58,178.78 L298.00,178.60 L298.39,178.45 L298.74,178.33 L299.06,178.22 L299.37,178.11 L299.68,177.97 L300.00,177.80 L300.32,177.60 L300.63,177.38 L300.94,177.14 L301.26,176.87 L301.61,176.56 L302.00,176.20 L302.45,175.78 L302.96,175.30 L303.50,174.79 L304.04,174.25 L304.55,173.72 L305.00,173.20 L305.39,172.71 L305.75,172.23 L306.07,171.74 L306.39,171.25 L306.69,170.74 L307.00,170.20 L307.32,169.63 L307.63,169.05 L307.94,168.44 L308.24,167.82 L308.53,167.17 L308.80,166.50 L309.06,165.76 L309.31,164.94 L309.54,164.11 L309.77,163.30 L309.99,162.58 L310.20,162.00 L310.40,161.54 L310.60,161.16 L310.79,160.87 L310.97,160.67 L311.14,160.58 L311.30,160.60 L311.45,160.70 L311.60,160.87 L311.74,161.15 L311.87,161.57 L311.99,162.17 L312.10,163.00 L312.20,164.01 L312.29,165.18 L312.36,166.53 L312.44,168.09 L312.51,169.90 L312.60,172.00 L312.69,174.51 L312.79,177.44 L312.89,180.62 L313.00,183.89 L313.10,187.07 L313.20,190.00 L313.30,192.74 L313.39,195.43 L313.49,198.04 L313.59,200.53 L313.69,202.86 L313.80,205.00 L313.92,207.04 L314.05,209.02 L314.18,210.85 L314.32,212.42 L314.46,213.64 L314.60,214.40 L314.74,214.58 L314.89,214.24 L315.04,213.54 L315.19,212.65 L315.34,211.75 L315.50,211.00 L315.66,210.37 L315.81,209.71 L315.98,209.04 L316.14,208.36 L316.31,207.67 L316.50,207.00 L316.70,206.32 L316.90,205.63 L317.12,204.94 L317.34,204.26 L317.57,203.61 L317.80,203.00 L318.04,202.44 L318.28,201.91 L318.52,201.41 L318.78,200.93 L319.04,200.46 L319.30,200.00 L319.57,199.55 L319.84,199.13 L320.12,198.72 L320.41,198.31 L320.70,197.91 L321.00,197.50 L321.30,197.08 L321.59,196.67 L321.89,196.25 L322.21,195.83 L322.54,195.42 L322.90,195.00 L323.29,194.58 L323.70,194.17 L324.12,193.75 L324.57,193.33 L325.03,192.92 L325.50,192.50 L325.98,192.07 L326.49,191.63 L327.00,191.18 L327.53,190.75 L328.06,190.35 L328.60,190.00 L329.15,189.70 L329.70,189.44 L330.26,189.21 L330.83,189.00 L331.41,188.80 L332.00,188.60 L332.59,188.40 L333.19,188.20 L333.79,188.01 L334.41,187.83 L335.05,187.66 L335.70,187.50 L336.37,187.35 L337.06,187.21 L337.77,187.08 L338.49,186.95 L339.24,186.82 L340.00,186.70 L340.79,186.58 L341.61,186.46 L342.46,186.34 L343.31,186.23 L344.16,186.12 L345.00,186.00 L345.84,185.89 L346.70,185.78 L347.56,185.67 L348.41,185.56 L349.22,185.43 L350.00,185.30 L350.73,185.15 L351.43,185.00 L352.10,184.83 L352.75,184.66 L353.38,184.48 L354.00,184.30 L354.62,184.08 L355.23,183.81 L355.82,183.53 L356.39,183.29 L356.92,183.13 L357.40,183.10 L357.83,183.23 L358.20,183.49 L358.54,183.83 L358.86,184.20 L359.17,184.54 L359.50,184.80 L359.81,184.98 L360.08,185.14 L360.35,185.26 L360.65,185.36 L361.02,185.44 L361.50,185.50 L362.09,185.53 L362.76,185.52 L363.50,185.49 L364.30,185.46 L365.13,185.42 L366.00,185.40 L366.89,185.40 L367.81,185.40 L368.78,185.41 L369.80,185.41 L370.87,185.41 L372.00,185.40 L373.22,185.38 L374.52,185.35 L375.88,185.31 L377.26,185.27 L378.64,185.24 L380.00,185.20 L381.34,185.17 L382.69,185.13 L384.03,185.10 L385.37,185.07 L386.70,185.03 L388.00,185.00 L389.37,184.96 L390.81,184.93 L392.25,184.89 L393.57,184.85 L394.69,184.82 L395.50,184.80" stroke="#2a2ab8"/>
<path d="M229.60,183.70 L230.74,183.70 L232.31,183.70 L234.17,183.71 L236.18,183.71 L238.17,183.71 L240.00,183.70 L241.69,183.69 L243.36,183.68 L245.03,183.66 L246.68,183.64 L248.34,183.62 L250.00,183.60 L251.71,183.57 L253.48,183.54 L255.25,183.51 L256.96,183.48 L258.56,183.44 L260.00,183.40 L261.25,183.36 L262.37,183.31 L263.38,183.27 L264.30,183.22 L265.16,183.16 L266.00,183.10 L266.77,183.03 L267.44,182.97 L268.06,182.89 L268.67,182.81 L269.30,182.71 L270.00,182.60 L270.78,182.46 L271.59,182.31 L272.44,182.14 L273.30,181.97 L274.16,181.78 L275.00,181.60 L275.83,181.41 L276.67,181.21 L277.50,181.01 L278.33,180.81 L279.17,180.60 L280.00,180.40 L280.83,180.21 L281.67,180.03 L282.50,179.85 L283.33,179.66 L284.17,179.45 L285.00,179.20 L285.84,178.93 L286.70,178.64 L287.56,178.32 L288.41,177.99 L289.22,177.61 L290.00,177.20 L290.74,176.74 L291.44,176.23 L292.12,175.69 L292.78,175.13 L293.40,174.56 L294.00,174.00 L294.57,173.43 L295.11,172.86 L295.62,172.27 L296.11,171.68 L296.57,171.09 L297.00,170.50 L297.40,169.91 L297.76,169.31 L298.09,168.72 L298.41,168.13 L298.71,167.55 L299.00,167.00 L299.28,166.48 L299.53,166.00 L299.78,165.53 L300.01,165.06 L300.25,164.55 L300.50,164.00 L300.76,163.40 L301.01,162.78 L301.27,162.12 L301.54,161.44 L301.81,160.74 L302.10,160.00 L302.40,159.22 L302.70,158.41 L303.02,157.56 L303.34,156.70 L303.67,155.84 L304.00,155.00 L304.35,154.20 L304.71,153.44 L305.07,152.69 L305.44,151.89 L305.78,151.01 L306.10,150.00 L306.39,148.84 L306.65,147.56 L306.90,146.19 L307.14,144.78 L307.37,143.37 L307.60,142.00 L307.83,140.62 L308.06,139.20 L308.29,137.78 L308.50,136.40 L308.71,135.12 L308.90,134.00 L309.08,133.02 L309.24,132.13 L309.39,131.35 L309.54,130.67 L309.67,130.08 L309.80,129.60 L309.92,129.22 L310.02,128.96 L310.12,128.79 L310.21,128.71 L310.30,128.72 L310.40,128.80 L310.50,128.80 L310.60,128.69 L310.71,128.66 L310.81,128.91 L310.91,129.63 L311.00,131.00 L311.09,133.12 L311.17,135.87 L311.25,139.07 L311.33,142.60 L311.41,146.29 L311.50,150.00 L311.59,153.82 L311.69,157.89 L311.79,162.12 L311.89,166.44 L311.99,170.76 L312.10,175.00 L312.21,179.17 L312.33,183.33 L312.44,187.50 L312.56,191.67 L312.68,195.83 L312.80,200.00 L312.92,204.28 L313.04,208.70 L313.16,213.12 L313.27,217.41 L313.39,221.41 L313.50,225.00 L313.61,228.17 L313.71,231.05 L313.81,233.64 L313.91,235.99 L314.01,238.10 L314.10,240.00 L314.19,241.72 L314.27,243.23 L314.34,244.52 L314.42,245.54 L314.51,246.28 L314.60,246.70 L314.70,246.72 L314.81,246.36 L314.93,245.71 L315.04,244.86 L315.17,243.93 L315.30,243.00 L315.43,242.06 L315.57,241.02 L315.71,239.89 L315.86,238.68 L316.02,237.38 L316.20,236.00 L316.40,234.46 L316.61,232.74 L316.84,230.94 L317.07,229.15 L317.29,227.47 L317.50,226.00 L317.68,224.81 L317.84,223.85 L318.00,223.00 L318.17,222.15 L318.36,221.19 L318.60,220.00 L318.89,218.52 L319.22,216.83 L319.57,215.03 L319.95,213.22 L320.33,211.51 L320.70,210.00 L321.08,208.68 L321.46,207.46 L321.86,206.34 L322.25,205.31 L322.63,204.37 L323.00,203.50 L323.33,202.76 L323.63,202.17 L323.92,201.66 L324.23,201.17 L324.58,200.64 L325.00,200.00 L325.51,199.23 L326.09,198.37 L326.71,197.47 L327.36,196.57 L327.99,195.73 L328.60,195.00 L329.17,194.37 L329.74,193.81 L330.29,193.31 L330.85,192.85 L331.42,192.42 L332.00,192.00 L332.59,191.61 L333.19,191.25 L333.79,190.92 L334.41,190.61 L335.05,190.30 L335.70,190.00 L336.39,189.69 L337.11,189.40 L337.86,189.11 L338.60,188.83 L339.32,188.56 L340.00,188.30 L340.61,188.05 L341.15,187.82 L341.67,187.59 L342.22,187.38 L342.85,187.18 L343.60,187.00 L344.52,186.83 L345.58,186.68 L346.71,186.54 L347.87,186.42 L348.98,186.30 L350.00,186.20 L350.86,186.11 L351.59,186.04 L352.27,185.97 L353.01,185.92 L353.89,185.86 L355.00,185.80 L356.38,185.73 L357.96,185.66 L359.69,185.59 L361.48,185.53 L363.28,185.46 L365.00,185.40 L366.67,185.34 L368.33,185.29 L370.00,185.24 L371.67,185.20 L373.33,185.15 L375.00,185.10 L376.66,185.05 L378.31,185.00 L379.97,184.94 L381.63,184.89 L383.30,184.84 L385.00,184.80 L386.84,184.76 L388.85,184.72 L390.88,184.68 L392.76,184.65 L394.35,184.62 L395.50,184.60" stroke="#ee22ee"/>
<path d="M229.60,180.27 L230.19,179.06 L231.01,178.97 L231.99,178.50 L233.03,178.81 L234.06,178.12 L235.00,178.70 L235.86,178.76 L236.70,178.40 L237.53,178.29 L238.35,177.45 L239.17,178.01 L240.00,177.19 L240.83,177.61 L241.67,177.16 L242.50,176.28 L243.33,176.03 L244.17,175.77 L245.00,175.65 L245.83,176.03 L246.67,175.29 L247.50,174.92 L248.33,175.76 L249.17,174.94 L250.00,175.17 L250.86,174.38 L251.74,173.99 L252.62,173.62 L253.48,173.20 L254.28,173.30 L255.00,172.35 L255.60,172.83 L256.11,171.30 L256.56,172.20 L257.00,171.02 L257.47,171.51 L258.00,170.27 L258.62,170.64 L259.30,169.35 L260.00,170.24 L260.70,169.63 L261.38,168.93 L262.00,168.62 L262.56,167.02 L263.07,166.60 L263.56,166.22 L264.04,166.46 L264.51,166.49 L265.00,166.23 L265.50,165.45 L266.00,165.14 L266.50,165.08 L267.00,164.00 L267.50,163.45 L268.00,163.01 L268.50,162.61 L269.00,163.34 L269.50,162.03 L270.00,161.89 L270.50,162.37 L271.00,161.22 L271.50,161.80 L272.00,160.28 L272.50,160.21 L273.00,159.37 L273.50,159.71 L274.00,158.30 L274.51,157.73 L275.02,157.11 L275.53,156.97 L276.04,154.81 L276.53,155.06 L277.00,154.59 L277.46,152.60 L277.91,152.66 L278.34,151.71 L278.76,151.85 L279.15,150.75 L279.50,150.29 L279.81,149.26 L280.07,148.86 L280.31,147.69 L280.54,146.60 L280.76,146.78 L281.00,145.72 L281.25,145.36 L281.50,145.30 L281.75,143.90 L282.00,142.97 L282.25,142.49 L282.50,142.65 L282.77,141.92 L283.06,140.98 L283.34,140.28 L283.61,138.49 L283.84,137.64 L284.00,137.39" stroke="#7a0a7a" stroke-width="1.5"/>
<path d="M338.30,240.92 L338.48,239.92 L338.73,239.47 L339.03,237.88 L339.35,237.09 L339.68,234.77 L340.00,234.30 L340.30,232.50 L340.61,231.94 L340.92,230.57 L341.25,229.08 L341.61,228.25 L342.00,227.75 L342.44,226.24 L342.93,224.93 L343.44,223.03 L343.96,222.25 L344.49,221.57 L345.00,220.08 L345.50,218.62 L346.00,218.14 L346.50,217.02 L347.00,215.60 L347.50,213.82 L348.00,212.99 L348.49,212.06 L348.96,211.81 L349.44,210.89 L349.93,210.99 L350.44,208.96 L351.00,209.31 L351.60,208.07 L352.22,207.18 L352.88,205.89 L353.56,204.96 L354.26,203.77 L355.00,202.27 L355.78,202.10 L356.59,201.73 L357.44,201.56 L358.30,200.69 L359.16,200.21 L360.00,199.26 L360.83,198.58 L361.67,199.22 L362.50,198.10 L363.33,198.65 L364.17,197.08 L365.00,196.86 L365.83,196.77 L366.67,196.79 L367.50,196.05 L368.33,195.24 L369.17,195.23 L370.00,195.21 L370.83,195.14 L371.67,194.95 L372.50,193.66 L373.33,193.18 L374.17,193.62 L375.00,193.76 L375.83,192.31 L376.67,193.06 L377.50,192.85 L378.33,192.27 L379.17,192.75 L380.00,192.12 L380.83,190.92 L381.67,191.40 L382.50,191.71 L383.33,191.43 L384.17,190.93 L385.00,190.76 L385.83,190.42 L386.65,189.78 L387.47,190.04 L388.30,190.05 L389.14,189.42 L390.00,190.03 L390.95,188.91 L392.00,189.62 L393.06,188.82 L394.06,189.45 L394.90,188.85 L395.50,189.36" stroke="#7a0a7a" stroke-width="1.5"/>
</g>
<g fill="none" stroke="#4a4a4a" stroke-width="1.1">
<rect x="35.3" y="1.4" width="166.40" height="249.15"/>
<line x1="35.3" y1="125.6" x2="201.7" y2="125.6" stroke="#808080" stroke-width="1.35"/>
<rect x="229.5" y="1.4" width="166.30" height="249.15"/>
<line x1="229.5" y1="125.6" x2="395.8" y2="125.6" stroke="#808080" stroke-width="1.35"/>
<path d="M35.30,125.60v-2.0 M50.40,125.60v-1.3 M65.50,125.60v-2.0 M65.50,1.40v2.0 M80.60,125.60v-1.3 M95.70,125.60v-2.0 M95.70,1.40v2.0 M110.80,125.60v-1.3 M125.90,125.60v-2.0 M125.90,1.40v2.0 M141.00,125.60v-1.3 M156.10,125.60v-2.0 M156.10,1.40v2.0 M171.20,125.60v-1.3 M186.30,125.60v-2.0 M186.30,1.40v2.0 M35.30,250.55v-2.0 M50.40,250.55v-1.3 M65.50,250.55v-2.0 M80.60,250.55v-1.3 M95.70,250.55v-2.0 M110.80,250.55v-1.3 M125.90,250.55v-2.0 M141.00,250.55v-1.3 M156.10,250.55v-2.0 M171.20,250.55v-1.3 M186.30,250.55v-2.0 M229.50,125.60v-2.0 M244.60,125.60v-1.3 M259.70,125.60v-2.0 M259.70,1.40v2.0 M274.80,125.60v-1.3 M289.90,125.60v-2.0 M289.90,1.40v2.0 M305.00,125.60v-1.3 M320.10,125.60v-2.0 M320.10,1.40v2.0 M335.20,125.60v-1.3 M350.30,125.60v-2.0 M350.30,1.40v2.0 M365.40,125.60v-1.3 M380.50,125.60v-2.0 M380.50,1.40v2.0 M229.50,250.55v-2.0 M244.60,250.55v-1.3 M259.70,250.55v-2.0 M274.80,250.55v-1.3 M289.90,250.55v-2.0 M305.00,250.55v-1.3 M320.10,250.55v-2.0 M335.20,250.55v-1.3 M350.30,250.55v-2.0 M365.40,250.55v-1.3 M380.50,250.55v-2.0 M35.30,6.00h2.4 M201.70,6.00h-2.4 M35.30,30.88h2.4 M201.70,30.88h-2.4 M35.30,55.75h2.4 M201.70,55.75h-2.4 M35.30,80.62h2.4 M201.70,80.62h-2.4 M35.30,105.50h2.4 M201.70,105.50h-2.4 M35.30,18.44h1.5 M35.30,43.31h1.5 M35.30,68.19h1.5 M35.30,93.06h1.5 M35.30,117.94h1.5 M35.30,141.45h2.4 M201.70,141.45h-2.4 M35.30,157.30h2.4 M201.70,157.30h-2.4 M35.30,173.15h2.4 M201.70,173.15h-2.4 M35.30,189.00h2.4 M201.70,189.00h-2.4 M35.30,204.85h2.4 M201.70,204.85h-2.4 M35.30,220.70h2.4 M201.70,220.70h-2.4 M35.30,236.55h2.4 M201.70,236.55h-2.4 M35.30,133.53h1.5 M35.30,149.38h1.5 M35.30,165.22h1.5 M35.30,181.07h1.5 M35.30,196.93h1.5 M35.30,212.78h1.5 M35.30,228.62h1.5 M35.30,244.47h1.5 M229.50,15.90h2.4 M395.80,15.90h-2.4 M229.50,35.52h2.4 M395.80,35.52h-2.4 M229.50,55.15h2.4 M395.80,55.15h-2.4 M229.50,74.78h2.4 M395.80,74.78h-2.4 M229.50,94.40h2.4 M395.80,94.40h-2.4 M229.50,114.03h2.4 M395.80,114.03h-2.4 M229.50,6.09h1.5 M229.50,25.71h1.5 M229.50,45.34h1.5 M229.50,64.96h1.5 M229.50,84.59h1.5 M229.50,104.21h1.5 M229.50,123.84h1.5 M229.50,145.27h2.4 M395.80,145.27h-2.4 M229.50,164.91h2.4 M395.80,164.91h-2.4 M229.50,184.55h2.4 M395.80,184.55h-2.4 M229.50,204.19h2.4 M395.80,204.19h-2.4 M229.50,223.83h2.4 M395.80,223.83h-2.4 M229.50,243.47h2.4 M395.80,243.47h-2.4 M229.50,135.45h1.5 M229.50,155.09h1.5 M229.50,174.73h1.5 M229.50,194.37h1.5 M229.50,214.01h1.5 M229.50,233.65h1.5 " stroke-width="0.9"/>
</g>
<g font-family="Liberation Sans" font-size="7.4" fill="#2a2a2a">
<text transform="translate(32.60,9.00) scale(1,1.13)" text-anchor="end">100</text><text transform="translate(32.60,33.88) scale(1,1.13)" text-anchor="end">50</text><text transform="translate(32.60,58.75) scale(1,1.13)" text-anchor="end">0</text><text transform="translate(32.60,83.62) scale(1,1.13)" text-anchor="end">-50</text><text transform="translate(32.60,108.50) scale(1,1.13)" text-anchor="end">-100</text><text transform="translate(32.60,144.45) scale(1,1.13)" text-anchor="end">75</text><text transform="translate(32.60,160.30) scale(1,1.13)" text-anchor="end">50</text><text transform="translate(32.60,176.15) scale(1,1.13)" text-anchor="end">25</text><text transform="translate(32.60,192.00) scale(1,1.13)" text-anchor="end">0</text><text transform="translate(32.60,207.85) scale(1,1.13)" text-anchor="end">-25</text><text transform="translate(32.60,223.70) scale(1,1.13)" text-anchor="end">-50</text><text transform="translate(32.60,239.55) scale(1,1.13)" text-anchor="end">-75</text><text transform="translate(226.80,18.90) scale(1,1.13)" text-anchor="end">50</text><text transform="translate(226.80,38.52) scale(1,1.13)" text-anchor="end">25</text><text transform="translate(226.80,58.15) scale(1,1.13)" text-anchor="end">0</text><text transform="translate(226.80,77.78) scale(1,1.13)" text-anchor="end">-25</text><text transform="translate(226.80,97.40) scale(1,1.13)" text-anchor="end">-50</text><text transform="translate(226.80,117.03) scale(1,1.13)" text-anchor="end">-75</text><text transform="translate(226.80,148.27) scale(1,1.13)" text-anchor="end">100</text><text transform="translate(226.80,167.91) scale(1,1.13)" text-anchor="end">50</text><text transform="translate(226.80,187.55) scale(1,1.13)" text-anchor="end">0</text><text transform="translate(226.80,207.19) scale(1,1.13)" text-anchor="end">-50</text><text transform="translate(226.80,226.83) scale(1,1.13)" text-anchor="end">-100</text><text transform="translate(226.80,246.47) scale(1,1.13)" text-anchor="end">-150</text><text transform="translate(35.30,259.50) scale(1,1.13)" text-anchor="middle">332</text><text transform="translate(65.50,259.50) scale(1,1.13)" text-anchor="middle">334</text><text transform="translate(95.70,259.50) scale(1,1.13)" text-anchor="middle">336</text><text transform="translate(125.90,259.50) scale(1,1.13)" text-anchor="middle">338</text><text transform="translate(156.10,259.50) scale(1,1.13)" text-anchor="middle">340</text><text transform="translate(186.30,259.50) scale(1,1.13)" text-anchor="middle">342</text><text transform="translate(229.50,259.50) scale(1,1.13)" text-anchor="middle">332</text><text transform="translate(259.70,259.50) scale(1,1.13)" text-anchor="middle">334</text><text transform="translate(289.90,259.50) scale(1,1.13)" text-anchor="middle">336</text><text transform="translate(320.10,259.50) scale(1,1.13)" text-anchor="middle">338</text><text transform="translate(350.30,259.50) scale(1,1.13)" text-anchor="middle">340</text><text transform="translate(380.50,259.50) scale(1,1.13)" text-anchor="middle">342</text>
</g>
<g font-family="Liberation Sans" fill="#111">
<text x="181.5" y="23.2" font-size="16" text-anchor="middle">(a)</text>
<text x="182.5" y="145.6" font-size="16" text-anchor="middle">(b)</text>
<text x="379" y="22.2" font-size="16" text-anchor="middle">(c)</text>
<text x="380.3" y="145.1" font-size="16" text-anchor="middle">(d)</text>
<text transform="translate(44.2,114.6) scale(1,1.12)" font-size="9.75"><tspan font-size="8.2">ν</tspan> = 9.462 GHz</text>
<text x="204.4" y="274.7" font-size="16.1" text-anchor="middle">Magnetic Field (mT)</text>
<text transform="translate(12.0,126.95) rotate(-90)" font-size="12.78" text-anchor="middle">EPR Signal Intensity (arb. units / mg)</text>
<text x="234.3" y="163.8" font-size="9.6" fill="#2c2ca8" stroke="#2c2ca8" stroke-width="0.25"><tspan font-size="8.2">×</tspan>10</text>
</g>
<g stroke="#4a4a4a" stroke-width="1" fill="#222">
<line x1="267.2" y1="139.3" x2="267.2" y2="153"/>
<path d="M265.3,151.2 L269.1,151.2 L267.2,155.8 Z" stroke="none"/>
<line x1="360.4" y1="229.9" x2="360.4" y2="212"/>
<path d="M358.6,213 L362.2,213 L360.4,208.8 Z" stroke="none"/>
</g>
</svg>
</body></html>
